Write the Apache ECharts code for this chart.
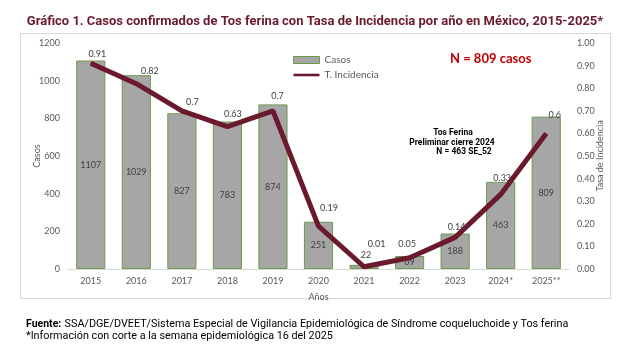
<!DOCTYPE html>
<html><head><meta charset="utf-8">
<script src="https://cdn.jsdelivr.net/npm/echarts@6/dist/echarts.min.js"></script>
<style>html,body{margin:0;padding:0;background:#fff}#c{width:630px;height:360px}</style>
</head><body><div id="c"></div>
<script>
const categories = ['2015','2016','2017','2018','2019','2020','2021','2022','2023','2024*','2025**'];
const casos = [1107,1029,827,783,874,251,22,69,188,463,809];
const tasa = [0.91,0.82,0.7,0.63,0.7,0.19,0.01,0.05,0.14,0.33,0.6];
const leftTicks = [0,200,400,600,800,1000,1200];
const rightTicks = [0,0.1,0.2,0.3,0.4,0.5,0.6,0.7,0.8,0.9,1.0];

const F = 'Lato, "Open Sans", sans-serif';
const N = '"Liberation Sans Narrow", Roboto, sans-serif';
const maroon = '#6b1a2e';
// label offsets (styling only)
const lineLabelOff = [[7,-9],[14,-12],[11,-8],[6,-12],[5,-14],[11,-17],[13,-22],[-2,-13],[2,-10],[2,-16],[9,-18]];
const chart = echarts.init(document.getElementById('c'));
const annFont = 'bold 8.5px Roboto, sans-serif';
chart.setOption({
  animation:false,
  textStyle:{fontFamily:F},
  title:{text:'Gráfico 1. Casos confirmados de Tos ferina con Tasa de Incidencia por año en México, 2015-2025*',
    left:'center', top:10, textStyle:{fontFamily:N, fontWeight:'bold', fontSize:13, color:maroon}},
  legend:{left:288, top:50, orient:'vertical', itemGap:5, itemWidth:26, itemHeight:7,
    textStyle:{fontFamily:F, fontSize:10, color:'#595959'},
    data:[{name:'Casos', icon:'rect', itemStyle:{color:'#a6a6a6', borderColor:'#6a9a4a', borderWidth:1}},
          {name:'T. Incidencia', icon:'path://M0,0 L10,0 L10,1 L0,1 Z', itemStyle:{color:maroon}}]},
  grid:{left:68, right:61, top:43, bottom:91, containLabel:false},
  xAxis:{type:'category', data:categories, name:'Años', nameLocation:'middle', nameGap:24,
    nameTextStyle:{color:'#595959', fontSize:9},
    axisLine:{lineStyle:{color:'#d9d9d9'}}, axisTick:{show:false},
    axisLabel:{color:'#595959', fontSize:9, margin:8}},
  yAxis:[
    {type:'value', min:0, max:1200, interval:200, name:'Casos', nameLocation:'middle', nameGap:26, nameMoveOverlap:false,
     nameTextStyle:{color:'#595959', fontSize:9}, splitLine:{show:false},
     axisLabel:{color:'#595959', fontSize:9, formatter:v=>String(v)}},
    {type:'value', min:0, max:1, interval:0.1, name:'Tasa de Incidencia', nameLocation:'middle', nameGap:27, nameMoveOverlap:false,
     nameTextStyle:{color:'#595959', fontSize:9}, splitLine:{show:false},
     axisLabel:{color:'#595959', fontSize:9, formatter:v=>v.toFixed(2)}}
  ],
  series:[
    {name:'Casos', type:'bar', data:casos.map((v,i)=>({value:v, label: i===6?{position:'top', offset:[2,0]}:{}})),
     barWidth:'64%', itemStyle:{color:'#a6a6a6', borderColor:'#6a9a4a', borderWidth:1},
     label:{show:true, position:'inside', color:'#404040', fontSize:9}},
    {name:'T. Incidencia', type:'line', yAxisIndex:1, symbol:'circle', symbolSize:1, showSymbol:true,
     data:tasa.map((v,i)=>({value:v, label:{position:lineLabelOff[i]}})),
     lineStyle:{color:maroon, width:5}, itemStyle:{color:maroon},
     labelLayout:{hideOverlap:false},
     label:{show:true, align:'center', verticalAlign:'middle', color:'#404040', fontSize:9}}
  ],
  graphic:[
    {type:'rect', shape:{x:20.5,y:33.5,width:590,height:265}, style:{fill:'none', stroke:'#d9d9d9', lineWidth:1}, z:-1},
    {type:'text', left:450, top:52, style:{text:'N = 809 casos', fill:'#c00000', font:'bold 13px '+F}},
    {type:'text', x:453, y:133, style:{text:'Tos Ferina', fill:'#000', font:annFont, align:'center', verticalAlign:'middle'}},
    {type:'text', x:452, y:143, style:{text:'Preliminar cierre 2024', fill:'#000', font:annFont, align:'center', verticalAlign:'middle'}},
    {type:'text', x:464, y:152, style:{text:'N = 463 SE_52', fill:'#000', font:annFont, align:'center', verticalAlign:'middle'}},
    {type:'text', left:26, top:318, style:{rich:{b:{font:'bold 10.5px Roboto, sans-serif', fill:'#000'}, n:{font:'10.8px '+N, fill:'#000'}},
      text:'{b|Fuente:} {n|SSA/DGE/DVEET/Sistema Especial de Vigilancia Epidemiológica de Síndrome coqueluchoide y Tos ferina}'}},
    {type:'text', left:26, top:331, style:{text:'*Información con corte a la semana epidemiológica 16 del 2025', font:'10.8px '+N, fill:'#000'}}
  ]
});
</script></body></html>
